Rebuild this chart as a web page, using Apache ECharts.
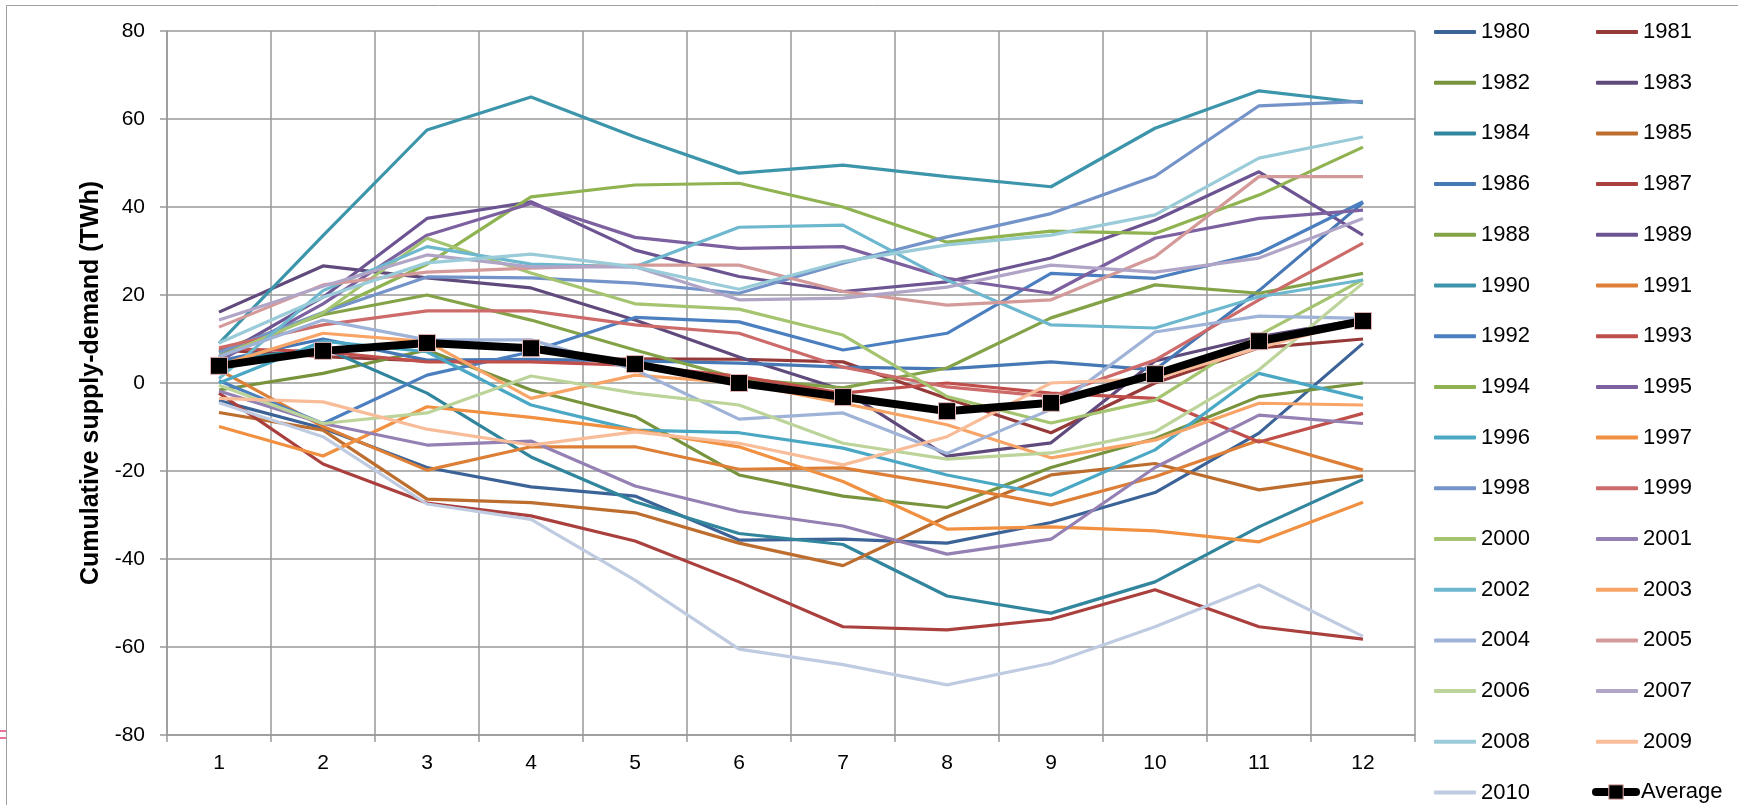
<!DOCTYPE html>
<html><head><meta charset="utf-8">
<script src="https://cdn.jsdelivr.net/npm/echarts@6/dist/echarts.min.js"></script>
<style>html,body{margin:0;padding:0;background:#fff}#c{width:1738px;height:805px}</style>
</head><body><div id="c"></div>
<script>
const months = ['1','2','3','4','5','6','7','8','9','10','11','12'];
const yTicks = [-80,-60,-40,-20,0,20,40,60,80];
const y1980 = [-4, -10.3, -19.2, -23.6, -25.7, -35.7, -35.5, -36.4, -31.7, -24.9, -11.4, 9];
const y1981 = [7.5, 6, 5, 5, 5.5, 5.4, 4.8, -3.5, -11.3, 0, 8, 10];
const y1982 = [-1.6, 2.2, 7.5, -1.6, -7.6, -20.9, -25.7, -28.3, -19.2, -12.6, -3.1, 0];
const y1983 = [16.1, 26.6, 23.9, 21.6, 14.3, 5.9, -1.6, -16.6, -13.6, 5, 10.5, 14.5];
const y1984 = [5, 8, -2.3, -16.8, -27, -34.2, -36.7, -48.4, -52.3, -45.2, -32.7, -21.9];
const y1985 = [-6.7, -10.7, -26.4, -27.2, -29.5, -36.4, -41.5, -30.4, -20.9, -18.3, -24.3, -21.1];
const y1986 = [5, 10, 5.2, 5.4, 5, 4.5, 3.6, 3.2, 4.8, 3, 21, 41];
const y1987 = [-2.3, -18.4, -27.3, -30.2, -35.9, -45.2, -55.4, -56.1, -53.7, -47, -55.4, -58.2];
const y1988 = [7.5, 15.5, 20, 14.3, 7.5, 1, -1.1, 3.4, 14.8, 22.3, 20.4, 24.9];
const y1989 = [6, 19.5, 37.4, 41.2, 30.2, 24.2, 20.8, 23, 28.4, 37, 48, 33.6];
const y1990 = [9, 33.5, 57.5, 65, 55.9, 47.7, 49.5, 46.9, 44.6, 57.9, 66.4, 63.7];
const y1991 = [3, -9.9, -19.8, -14.5, -14.5, -19.6, -19.3, -23.2, -27.7, -21.3, -13, -19.8];
const y1992 = [0.5, -9.2, 1.8, 7.1, 14.9, 13.9, 7.5, 11.3, 24.9, 23.8, 29.5, 41.2];
const y1993 = [7.9, 7.1, 4.8, 4.8, 4, 1.5, -2.3, 0, -2.3, -3.5, -13.4, -6.9];
const y1994 = [6.8, 15.9, 27, 42.3, 45, 45.4, 40, 32, 34.5, 34, 42.7, 53.6];
const y1995 = [5, 18, 33.6, 40.8, 33.1, 30.6, 31, 23.8, 20.4, 32.9, 37.4, 39.3];
const y1996 = [0, 9.5, 7.1, -5, -10.7, -11.3, -14.8, -20.9, -25.5, -15.2, 2.2, -3.5];
const y1997 = [-9.9, -16.6, -5.4, -7.8, -10.7, -14.5, -22.4, -33.2, -32.7, -33.6, -36.1, -27.1];
const y1998 = [7, 16, 24.1, 23.9, 22.7, 20.4, 27.2, 33.2, 38.5, 47, 63, 64];
const y1999 = [8, 13.2, 16.4, 16.4, 13.2, 11.3, 3.6, -0.9, -3.1, 5.2, 18.9, 31.8];
const y2000 = [5.9, 15.9, 32.9, 25, 18, 16.8, 10.9, -3.1, -9.1, -3.9, 10.9, 23.5];
const y2001 = [-1.8, -9.2, -14.1, -13.2, -23.4, -29.2, -32.5, -38.9, -35.5, -19.2, -7.3, -9.2];
const y2002 = [1, 21, 31, 27, 26.4, 35.4, 35.9, 23.4, 13.2, 12.5, 19.6, 23.4];
const y2003 = [4, 11.3, 9.4, -3.5, 1.8, 0, -4.6, -9.5, -17, -13, -4.6, -5];
const y2004 = [6, 14.3, 9.8, 9.8, 3, -8.2, -6.8, -16, -6, 11.6, 15.2, 14.7];
const y2005 = [12.7, 22.3, 25.2, 26.1, 26.8, 26.8, 20.8, 17.7, 18.9, 28.7, 46.9, 46.9];
const y2006 = [-0.5, -9.2, -6.8, 1.6, -2.3, -5, -13.7, -17.3, -15.9, -11.1, 3, 22.7];
const y2007 = [14.3, 22, 29.1, 26.4, 26.4, 18.9, 19.3, 21.8, 26.8, 25.2, 28.4, 37.4];
const y2008 = [9.1, 19.5, 27.3, 29.3, 26.4, 21.3, 27.6, 31.4, 33.6, 38.2, 51.1, 55.9];
const y2009 = [-3.5, -4.3, -10.5, -14.1, -11.1, -13.7, -18.6, -12.2, 0, 1, 8, 14.3];
const y2010 = [-4.5, -12.2, -27.5, -31, -44.8, -60.5, -64, -68.6, -63.7, -55.4, -45.9, -57.6];
const average = [3.9, 7.3, 9.1, 7.9, 4.3, 0, -3.2, -6.4, -4.5, 2, 9.5, 14.1];

const yearNames = ['1980','1981','1982','1983','1984','1985','1986','1987','1988','1989','1990','1991','1992','1993','1994','1995','1996','1997','1998','1999','2000','2001','2002','2003','2004','2005','2006','2007','2008','2009','2010'];
const yearData = [y1980,y1981,y1982,y1983,y1984,y1985,y1986,y1987,y1988,y1989,y1990,y1991,y1992,y1993,y1994,y1995,y1996,y1997,y1998,y1999,y2000,y2001,y2002,y2003,y2004,y2005,y2006,y2007,y2008,y2009,y2010];
const palette = ['#3c6397','#953a38','#77933c','#5f4a7b','#31859c','#bd6d2d',
  '#4678b5','#aa403e','#84a348','#6c5492','#3c95aa','#dd7f37',
  '#4b7fc0','#c04e4b','#8fb350','#7d60a0','#4aa8c4','#f09040',
  '#7393c9','#cc6b69','#a5c46f','#9480b3','#6db8ce','#f8a467',
  '#9fb2d7','#d49a99','#bcd49a','#b1a5c7','#9acbd8','#f9bc98','#bfcbe0'];

const FONT = 'Liberation Sans';
const series = yearNames.map((n,i)=>({
  name:n, type:'line', data:yearData[i], symbol:'none', showSymbol:false,
  lineStyle:{width:3.2, color:palette[i]}, itemStyle:{color:palette[i]},
  emphasis:{disabled:true}, animation:false, z:2
}));
series.push({
  name:'Average', type:'line', data:average, symbol:'rect', symbolSize:17, showSymbol:true,
  lineStyle:{width:8, color:'#000'}, itemStyle:{color:'#000', borderColor:'#e2b4b3', borderWidth:1},
  emphasis:{disabled:true}, animation:false, z:5
});

const leftNames = [], rightNames = [];
yearNames.forEach((n,i)=>{ (i%2===0?leftNames:rightNames).push(n); });

const ROW = 50.7, TOP0 = 21;
const legendBase = {
  orient:'vertical', top:TOP0, padding:0, itemWidth:42, itemHeight:4, itemGap:ROW-22,
  icon:'roundRect', height:800,
  textStyle:{fontFamily:FONT, fontSize:22, color:'#000', lineHeight:22},
  selectedMode:false
};

const chart = echarts.init(document.getElementById('c'), null, {renderer:'canvas'});
chart.setOption({
  animation:false,
  backgroundColor:'#fff',
  grid:{left:167, top:31, right:323, bottom:70, containLabel:false},
  xAxis:{
    type:'category', data:months, boundaryGap:true,
    axisLine:{show:true, onZero:false, lineStyle:{color:'#999', width:1.5}},
    axisTick:{show:true, length:7, inside:false, lineStyle:{color:'#999', width:1.5}},
    axisLabel:{fontFamily:FONT, fontSize:21, color:'#000', margin:18},
    splitLine:{show:true, lineStyle:{color:'#999', width:1.5}}
  },
  yAxis:{
    type:'value', min:yTicks[0], max:yTicks[yTicks.length-1], interval:20,
    name:'Cumulative supply-demand (TWh)', nameLocation:'middle', nameRotate:90, nameGap:61,
    nameTextStyle:{fontFamily:FONT, fontSize:25, fontWeight:'bold', color:'#000'},
    axisLine:{show:true, lineStyle:{color:'#999', width:1.5}},
    axisTick:{show:true, length:7, inside:false, lineStyle:{color:'#999', width:1.5}},
    axisLabel:{fontFamily:FONT, fontSize:21, color:'#000', margin:22},
    splitLine:{show:true, lineStyle:{color:'#999', width:1.5}}
  },
  legend:[
    Object.assign({}, legendBase, {left:1434, data:leftNames}),
    Object.assign({}, legendBase, {left:1596, data:rightNames}),
    Object.assign({}, legendBase, {left:1592, top:TOP0 + 15*ROW - 0.5, itemWidth:40, itemHeight:18, icon:null,
      lineStyle:{width:8, color:'#000', cap:'round'},
      itemStyle:{color:'#000', borderColor:'#e2b4b3', borderWidth:1},
      data:['Average']})
  ],
  graphic:[
    {type:'rect', shape:{x:6.5, y:5.5, width:1800, height:900}, style:{fill:null, stroke:'#a0a0a0', lineWidth:1}, silent:true, z:0},
    {type:'line', shape:{x1:0, y1:731, x2:6, y2:731}, style:{stroke:'#e0457b', lineWidth:1.5}, silent:true},
    {type:'line', shape:{x1:0, y1:738, x2:6, y2:738}, style:{stroke:'#e0457b', lineWidth:1.5}, silent:true}
  ],
  series:series
});
</script>
</body></html>
